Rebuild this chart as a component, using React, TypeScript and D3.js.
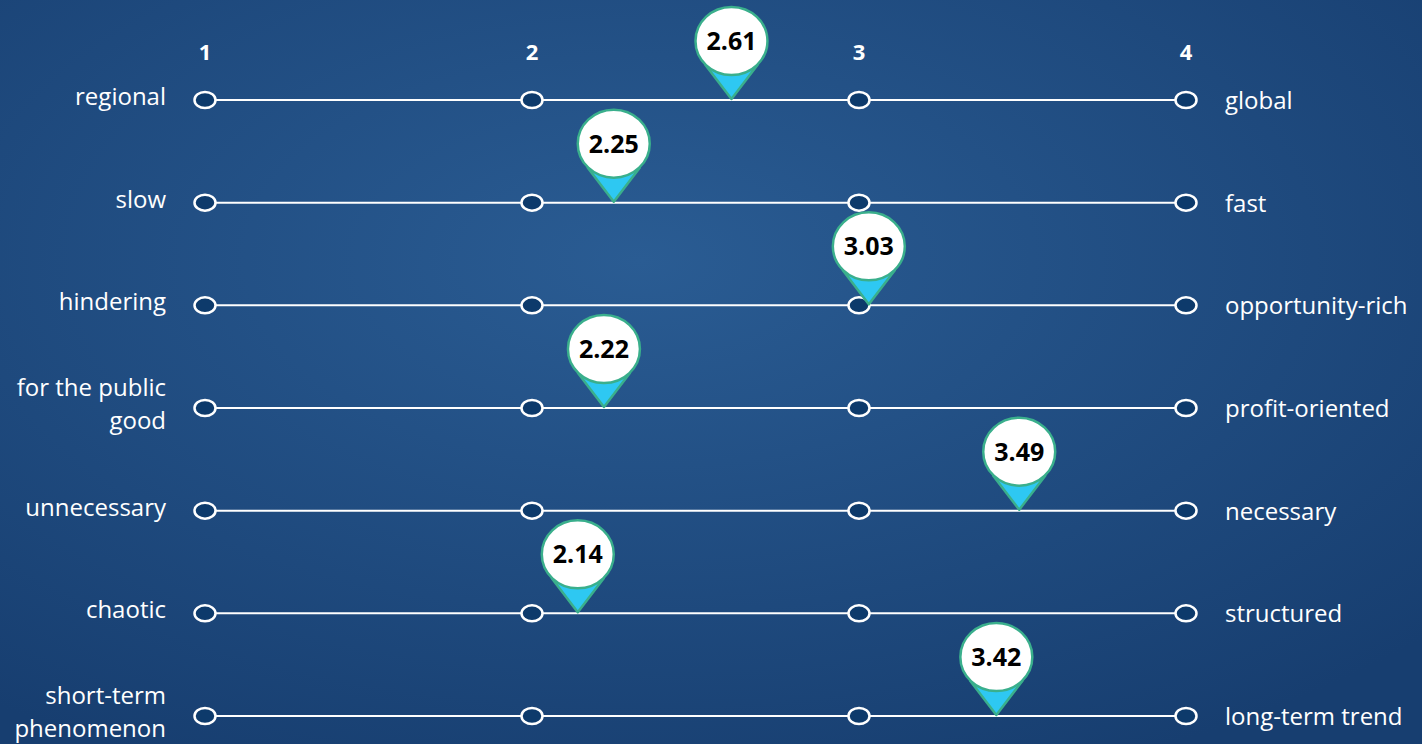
import React from "react";
import * as d3 from "d3";

const leftLabels = ["regional", "slow", "hindering", "for the public\ngood", "unnecessary", "chaotic", "short-term\nphenomenon"];
const rightLabels = ["global", "fast", "opportunity-rich", "profit-oriented", "necessary", "structured", "long-term trend"];
const values = [2.61, 2.25, 3.03, 2.22, 3.49, 2.14, 3.42];
const ticks = [1, 2, 3, 4];

const W = 1422;
const H = 744;
const FONT = "'Open Sans', 'Noto Sans', sans-serif";

export default function App() {
  const x = d3.scaleLinear().domain([1, 4]).range([205, 1186]);
  const y = d3.scalePoint<number>().domain(d3.range(leftLabels.length)).range([100, 716]);

  const rx = 36, ry = 34, lift = 58;

  return (
    <svg width={W} height={H} style={{ position: "absolute", left: 0, top: 0, display: "block" }}>
      <defs>
        <radialGradient id="bg" cx="45%" cy="35%" r="75%" gradientUnits="objectBoundingBox">
          <stop offset="0%" stopColor="#2a5c93" />
          <stop offset="100%" stopColor="#173e70" />
        </radialGradient>
      </defs>
      <rect x={0} y={0} width={W} height={H} fill="url(#bg)" />
      {ticks.map((t) => (
        <text key={t} x={x(t)} y={60} textAnchor="middle" fill="#fff" fontFamily={FONT} fontWeight="bold" fontSize={22}>
          {t}
        </text>
      ))}
      {leftLabels.map((lab, i) => {
        const yy = y(i)!;
        const lines = lab.split("\n");
        const lh = 33;
        const y0 = lines.length === 1 ? yy + 5 : yy - 12;
        return (
          <g key={i}>
            <line x1={x(1)} x2={x(4)} y1={yy} y2={yy} stroke="#fff" strokeWidth={2} />
            {ticks.map((t) => (
              <ellipse key={t} cx={x(t)} cy={yy} rx={10.5} ry={8} fill="#0d3a6b" stroke="#fff" strokeWidth={2.5} />
            ))}
            {lines.map((ln, j) => (
              <text key={j} x={166} y={y0 + j * lh} textAnchor="end" fill="#fff" fontFamily={FONT} fontSize={24}>
                {ln}
              </text>
            ))}
            <text x={1225} y={yy + 9} textAnchor="start" fill="#fff" fontFamily={FONT} fontSize={24}>
              {rightLabels[i]}
            </text>
          </g>
        );
      })}
      {values.map((v, i) => {
        const tx = x(v);
        const ty = y(i)! - 1;
        const cx = tx;
        const cy = ty - lift;
        const px = 26, py = 24;
        return (
          <g key={"pin" + i}>
            <path
              d={`M${tx},${ty} L${cx - px},${cy + py} L${cx + px},${cy + py} Z`}
              fill="#2ec8f2"
              stroke="#3aaf8c"
              strokeWidth={2.5}
              strokeLinejoin="round"
            />
            <ellipse cx={cx} cy={cy} rx={rx} ry={ry} fill="#fff" stroke="#3aaf8c" strokeWidth={2.5} />
            <text x={cx} y={cy + 9} textAnchor="middle" fill="#000" fontFamily={FONT} fontWeight="bold" fontSize={25}>
              {v.toFixed(2)}
            </text>
          </g>
        );
      })}
    </svg>
  );
}
